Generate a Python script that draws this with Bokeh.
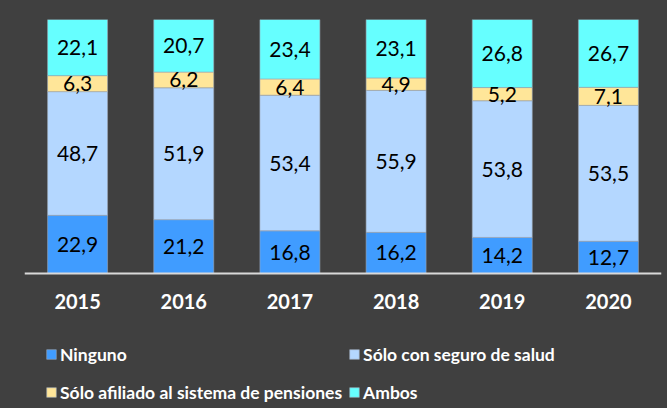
from bokeh.plotting import figure
from bokeh.models import Range1d, FactorRange, Legend, LegendItem, ColumnDataSource
from bokeh.core.properties import value
from bokeh.embed import file_html
from bokeh.resources import INLINE

years = ["2015", "2016", "2017", "2018", "2019", "2020"]
ninguno = [22.9, 21.2, 16.8, 16.2, 14.2, 12.7]
salud = [48.7, 51.9, 53.4, 55.9, 53.8, 53.5]
pensiones = [6.3, 6.2, 6.4, 4.9, 5.2, 7.1]
ambos = [22.1, 20.7, 23.4, 23.1, 26.8, 26.7]

series_names = ["Ninguno", "Sólo con seguro de salud",
                "Sólo afiliado al sistema de pensiones", "Ambos"]
keys = ["ninguno", "salud", "pensiones", "ambos"]
colors = ["#409CFF", "#B4D7FF", "#FFE699", "#66FFFF"]
BG = "#404040"

data = dict(years=years, ninguno=ninguno, salud=salud,
            pensiones=pensiones, ambos=ambos)
source = ColumnDataSource(data)

# frame spans the full height below the top border; value 0 sits at 273px
p = figure(width=667, height=408, x_range=FactorRange(*years, range_padding=0),
           y_range=Range1d(-53.15, 100), output_backend="svg", toolbar_location=None,
           min_border_left=24, min_border_right=6, min_border_top=19,
           min_border_bottom=0)
p.background_fill_color = BG
p.border_fill_color = BG
p.outline_line_color = None
p.grid.visible = False
p.yaxis.visible = False

renderers = p.vbar_stack(keys, x="years", width=0.565, source=source,
                         color=colors, line_color="#9aa5b1", line_width=0.6)

# data labels
lx, ly, lt = [], [], []
series = [ninguno, salud, pensiones, ambos]
for i, y in enumerate(years):
    base = 0.0
    for s in series:
        v = s[i]
        lx.append(y)
        ly.append(base + v / 2)
        lt.append(f"{v:.1f}".replace(".", ","))
        base += v
p.text(x=lx, y=ly, text=lt, text_align="center", text_baseline="middle",
       text_font=value("Lato"), text_font_size="21px", text_color="#000000")

ax = p.xaxis[0]
ax.fixed_location = 0
ax.axis_line_color = "#D9D9D9"
ax.axis_line_width = 2
ax.major_tick_line_color = None
ax.minor_tick_line_color = None
ax.major_tick_out = 0
ax.major_tick_in = 0
ax.major_label_standoff = 21
ax.major_label_text_font = "Lato"
ax.major_label_text_font_style = "bold"
ax.major_label_text_font_size = "20px"
ax.major_label_text_color = "#FFFFFF"

# vertical orientation with 2 columns fills column by column
order = [0, 2, 1, 3]
items = [LegendItem(label=series_names[i], renderers=[renderers[i]]) for i in order]
leg = Legend(items=items, location=(21, 0), orientation="vertical", ncols=2,
             padding=0, margin=0, spacing=6, glyph_width=12,
             glyph_height=12, label_height=32, label_standoff=3,
             label_text_font="Lato", label_text_font_style="bold",
             label_text_font_size="17.5px", label_text_color="#FFFFFF",
             background_fill_alpha=0, border_line_alpha=0)
p.add_layout(leg, "center")

html = file_html(p, INLINE)
html = html.replace("</head>", "<style>body{background-color:#404040;}</style></head>", 1)
open("out.html", "w").write(html)
